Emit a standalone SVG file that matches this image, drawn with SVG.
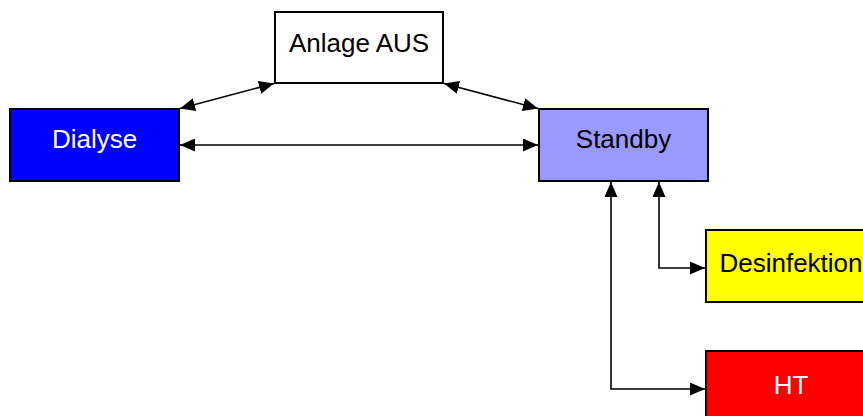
<svg xmlns="http://www.w3.org/2000/svg" width="863" height="416" viewBox="0 0 863 416">
  <style>
    .box { stroke: #000; stroke-width: 2; }
    .lbl { font-family: "Liberation Sans", Arial, sans-serif; font-size: 26px; text-anchor: middle; }
    .conn { fill: none; stroke: #000; stroke-width: 1.6; }
  </style>
  <defs>
    <marker id="arr" markerUnits="userSpaceOnUse" markerWidth="16" markerHeight="13" refX="15" refY="6.5" orient="auto-start-reverse">
      <path d="M0,0 L15,6.5 L0,13 z" fill="#000"/>
    </marker>
  </defs>
  <rect width="863" height="416" fill="#fff"/>

  <g id="connectors">
    <line class="conn" x1="180" y1="108.5" x2="274" y2="83.5" marker-start="url(#arr)" marker-end="url(#arr)"/>
    <line class="conn" x1="444" y1="83.5" x2="538" y2="108.5" marker-start="url(#arr)" marker-end="url(#arr)"/>
    <line class="conn" x1="180" y1="145" x2="538" y2="145" marker-start="url(#arr)" marker-end="url(#arr)"/>
    <polyline class="conn" points="659,182 659,268 705,268" marker-start="url(#arr)" marker-end="url(#arr)"/>
    <polyline class="conn" points="611,182 611,389 705,389" marker-start="url(#arr)" marker-end="url(#arr)"/>
  </g>

  <g id="anlage-aus">
    <rect class="box" x="275" y="12" width="168" height="71" fill="#fff"/>
    <text class="lbl" x="359" y="52" fill="#000">Anlage AUS</text>
  </g>
  <g id="dialyse">
    <rect class="box" x="10" y="109" width="169" height="72" fill="#0000ff"/>
    <text class="lbl" x="94.5" y="148" fill="#fff">Dialyse</text>
  </g>
  <g id="standby">
    <rect class="box" x="539" y="109" width="169" height="72" fill="#9999ff"/>
    <text class="lbl" x="623.5" y="148" fill="#000">Standby</text>
  </g>
  <g id="desinfektion">
    <rect class="box" x="706" y="230" width="170" height="72" fill="#ffff00"/>
    <text class="lbl" x="791" y="272" fill="#000">Desinfektion</text>
  </g>
  <g id="ht">
    <rect class="box" x="706" y="351" width="170" height="72" fill="#ff0000"/>
    <text class="lbl" x="791" y="394" fill="#fff">HT</text>
  </g>
</svg>
